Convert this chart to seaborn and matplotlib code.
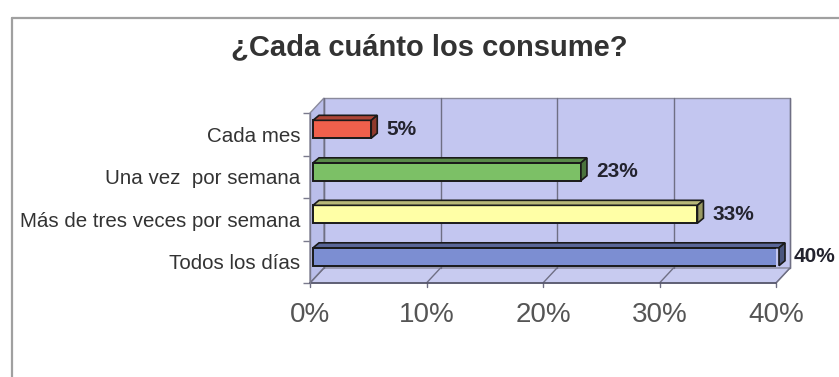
import matplotlib
matplotlib.use("Agg")
import matplotlib.pyplot as plt
import matplotlib.transforms as mtransforms
from matplotlib.patches import Polygon, Rectangle
from matplotlib.lines import Line2D
import seaborn as sns
import pandas as pd

# ---- data ----
categorias = ["Cada mes", "Una vez  por semana", "Más de tres veces por semana", "Todos los días"]
porcentajes = [5, 23, 33, 40]
colores = ["#f0604c", "#7cc066", "#ffffa6", "#7c8ed2"]
x_ticks = [0, 10, 20, 30, 40]
x_tick_labels = ["0%", "10%", "20%", "30%", "40%"]
titulo = "¿Cada cuánto los consume?"

W, H, DPI = 839, 377, 100
sns.set_theme(style="white")
plt.rcParams["font.family"] = ["Liberation Sans", "DejaVu Sans"]

fig = plt.figure(figsize=(W / DPI, H / DPI), dpi=DPI)
fig.patch.set_facecolor("white")

# front plane of the plot box (pixels from the top-left corner)
left, right, top, bottom = 310, 776, 113, 283
ax = fig.add_axes([left / W, 1 - bottom / H, (right - left) / W, (bottom - top) / H])
ax.set_facecolor("none")

df = pd.DataFrame({"categoria": categorias, "porcentaje": porcentajes})
sns.barplot(data=df, x="porcentaje", y="categoria", hue="categoria",
            palette=colores, saturation=1, orient="h", width=0.42, legend=False,
            edgecolor="#1a1a1a", linewidth=1.4, ax=ax, zorder=3)
bars = [p for p in ax.patches if isinstance(p, Rectangle)]

ax.set_xlim(0, 40)
ax.set_ylim(3.5, -0.5)
for s in ax.spines.values():
    s.set_visible(False)
ax.set_xlabel("")
ax.set_ylabel("")

# depth of the box and of the bars (pixels)
DX, DY = 14, 15
BX, BY = 3, 5
BDX, BDY = 6, 5

ident = mtransforms.IdentityTransform()


def disp(xa, ya):
    return ax.transAxes.transform((xa, ya))


(fl_x, fl_y) = disp(0, 0)
(fr_x, fr_y) = disp(1, 0)
(tl_x, tl_y) = disp(0, 1)
(tr_x, tr_y) = disp(1, 1)

wall_col = "#c3c6f0"
edge_col = "#8a8a9c"

# back wall
ax.add_patch(Polygon([(fl_x + DX, fl_y + DY), (fr_x + DX, fr_y + DY),
                      (tr_x + DX, tr_y + DY), (tl_x + DX, tl_y + DY)],
                     closed=True, facecolor=wall_col, edgecolor=edge_col,
                     linewidth=1.0, transform=ident, clip_on=False, zorder=0.5))
# left side wall
ax.add_patch(Polygon([(fl_x, fl_y), (fl_x + DX, fl_y + DY),
                      (tl_x + DX, tl_y + DY), (tl_x, tl_y)],
                     closed=True, facecolor="#babeea", edgecolor=edge_col,
                     linewidth=1.0, transform=ident, clip_on=False, zorder=0.6))
# floor
ax.add_patch(Polygon([(fl_x, fl_y), (fr_x, fr_y),
                      (fr_x + DX, fr_y + DY), (fl_x + DX, fl_y + DY)],
                     closed=True, facecolor="#c8cbf0", edgecolor=edge_col,
                     linewidth=1.0, transform=ident, clip_on=False, zorder=0.6))

# gridlines on the back wall and the floor
for v in x_ticks:
    xd = ax.transData.transform((v, 0))[0]
    ax.add_line(Line2D([xd + DX, xd + DX], [fl_y + DY, tl_y + DY],
                       color="#6f6f84", linewidth=1.0, transform=ident,
                       clip_on=False, zorder=0.7))
    ax.add_line(Line2D([xd, xd + DX], [fl_y, fl_y + DY],
                       color="#6f6f84", linewidth=1.0, transform=ident,
                       clip_on=False, zorder=0.7))
    ax.add_line(Line2D([xd, xd], [fl_y, fl_y - 4],
                       color="#6f6f84", linewidth=1.0, transform=ident,
                       clip_on=False, zorder=0.7))

# front edges of the box
ax.add_line(Line2D([fl_x, fr_x], [fl_y, fr_y], color="#55556a", linewidth=1.2,
                   transform=ident, clip_on=False, zorder=0.8))
ax.add_line(Line2D([fl_x, tl_x], [fl_y, tl_y], color="#7a7a8c", linewidth=1.0,
                   transform=ident, clip_on=False, zorder=0.8))


def shade(c, f):
    r, g, b = matplotlib.colors.to_rgb(c)
    return (r * f, g * f, b * f)


# bars: move the front faces into the box and add top and side faces
bar_trans = mtransforms.offset_copy(ax.transData, fig=fig, x=BX, y=BY, units="dots")
for patch, col in zip(bars, colores):
    patch.set_transform(bar_trans)
    bb = patch.get_bbox()
    (x0, y0) = bar_trans.transform((bb.x0, bb.y0))
    (x1, y1) = bar_trans.transform((bb.x1, bb.y1))
    xl, xr = min(x0, x1), max(x0, x1)
    yb, yt = min(y0, y1), max(y0, y1)
    ax.add_patch(Polygon([(xl, yt), (xr, yt), (xr + BDX, yt + BDY), (xl + BDX, yt + BDY)],
                         closed=True, facecolor=shade(col, 0.72), edgecolor="#1a1a1a",
                         linewidth=1.2, transform=ident, clip_on=False, zorder=3.1))
    ax.add_patch(Polygon([(xr, yb), (xr, yt), (xr + BDX, yt + BDY), (xr + BDX, yb + BDY)],
                         closed=True, facecolor=shade(col, 0.6), edgecolor="#1a1a1a",
                         linewidth=1.2, transform=ident, clip_on=False, zorder=3.1))

# value labels
lab_trans = mtransforms.offset_copy(ax.transData, fig=fig, x=BX + BDX + 9, y=BY, units="dots")
for i, v in enumerate(porcentajes):
    ax.text(v, i, f"{v}%", transform=lab_trans, ha="left", va="center",
            fontsize=15, fontweight="bold", color="#23232e", clip_on=False, zorder=4)

# axis ticks and labels
ax.set_xticks(x_ticks)
ax.set_xticklabels(x_tick_labels)
ax.tick_params(axis="x", length=0, pad=14, labelsize=20, labelcolor="#555555")
ax.set_yticks(range(len(categorias)))
ax.set_yticklabels(categorias)
ax.tick_params(axis="y", which="major", length=0, pad=7, labelsize=14.8, labelcolor="#333333")
ax.set_yticks([-0.5, 0.5, 1.5, 2.5, 3.5], minor=True)
ax.tick_params(axis="y", which="minor", length=5, width=1, color="#7a7a8c", left=True)

# title
fig.text(429 / W, 1 - 47 / H, titulo, ha="center", va="center",
         fontsize=21, fontweight="bold", color="#333333")

# outer frame of the chart area
fig.add_artist(Line2D([12 / W, 1], [1 - 18 / H, 1 - 18 / H], color="#a0a0a0",
                      linewidth=1.6, transform=fig.transFigure))
fig.add_artist(Line2D([12 / W, 12 / W], [0, 1 - 18 / H], color="#a0a0a0",
                      linewidth=1.6, transform=fig.transFigure))

fig.savefig("out.png", dpi=DPI)
